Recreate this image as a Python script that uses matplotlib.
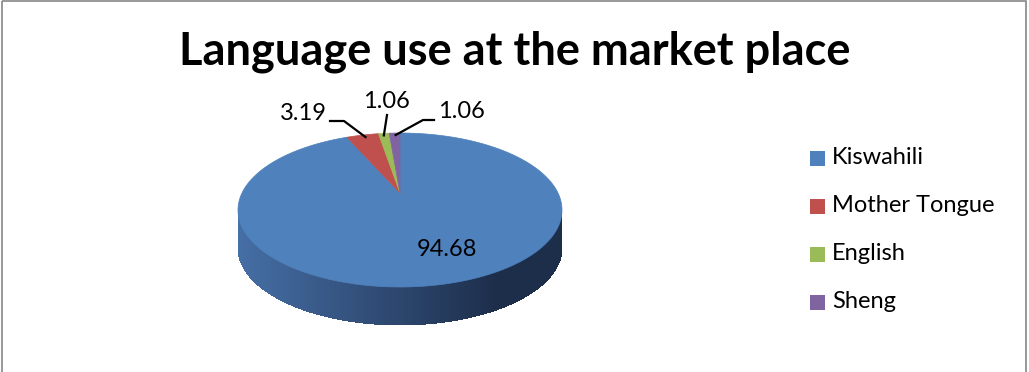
import numpy as np
import matplotlib.pyplot as plt
from matplotlib.patches import Polygon, Rectangle

plt.rcParams['font.family'] = ['Lato', 'DejaVu Sans']

languages = ['Kiswahili', 'Mother Tongue', 'English', 'Sheng']
shares = [94.68, 3.19, 1.06, 1.06]
labels = ['94.68', '3.19', '1.06', '1.06']
colors = ['#4f81bd', '#c0504d', '#9bbb59', '#8064a2']

# pie geometry in pixel units (y down)
cx, cy = 400, 210
a, b = 162, 77
depth = 38
apex = (400, 193)

fig = plt.figure(figsize=(10.29, 3.72), dpi=100)
ax = fig.add_axes([0, 0, 1, 1])
ax.set_xlim(0, 1029)
ax.set_ylim(372, 0)
ax.axis('off')

def pt(phi):
    return cx + a * np.cos(phi), cy - b * np.sin(phi)

# side wall, drawn as thin strips with a gradient
left_col = np.array([0x46, 0x6f, 0xa6]) / 255
right_col = np.array([0x1d, 0x2e, 0x4b]) / 255
phis = np.linspace(np.pi, 2 * np.pi, 200)
for p0, p1 in zip(phis[:-1], phis[1:]):
    x0, y0 = pt(p0)
    x1, y1 = pt(p1 + 0.01)
    f = ((x0 + x1) / 2 - (cx - a)) / (2 * a)
    f = min(1, f * 1.25)
    c = left_col * (1 - f) + right_col * f
    ax.add_patch(Polygon([(x0, y0), (x1, y1), (x1, y1 + depth), (x0, y0 + depth)],
                         closed=True, facecolor=c, edgecolor='none', antialiased=False))

# top wedges, clockwise from 12 o'clock
fracs = np.array(shares) / sum(shares)
start = np.pi / 2
mids = []
for frac, col in zip(fracs, colors):
    end = start - frac * 2 * np.pi
    ph = np.linspace(start, end, max(4, int(frac * 400)))
    xs, ys = pt(ph)
    verts = [apex] + list(zip(xs, ys))
    ax.add_patch(Polygon(verts, closed=True, facecolor=col, edgecolor=col, lw=0.5))
    mids.append((start + end) / 2)
    start = end

# data labels
lab_fs = 17
ax.text(447, 250, labels[0], fontsize=lab_fs, ha='center', va='center', color='black')

# Mother Tongue
mx, my = pt(mids[1])
ax.plot([330, 344, mx + 3], [121, 121, my + 2], color='black', lw=1.6)
ax.text(327, 113, labels[1], fontsize=lab_fs, ha='right', va='center')
# English
ex, ey = pt(mids[2])
ax.plot([387, ex], [115, ey + 2], color='black', lw=1.6)
ax.text(386, 101, labels[2], fontsize=lab_fs, ha='center', va='center')
# Sheng
sx, sy = pt(mids[3])
ax.plot([434, 423, sx + 1], [120, 120, sy + 2], color='black', lw=1.6)
ax.text(438, 112, labels[3], fontsize=lab_fs, ha='left', va='center')

ax.text(515, 52, 'Language use at the market place', fontsize=32.5, fontweight='bold',
        ha='center', va='center')

# legend
for i, (name, col) in enumerate(zip(languages, colors)):
    y = 158 + i * 48
    ax.add_patch(Rectangle((810, y - 7.5), 15, 15, facecolor=col, edgecolor='none'))
    ax.text(832, y, name, fontsize=17, ha='left', va='center')

# chart border
ax.add_patch(Rectangle((2, 1), 1024, 380, fill=False, edgecolor='#868686', lw=1.2))

fig.savefig('out.png', dpi=100)
